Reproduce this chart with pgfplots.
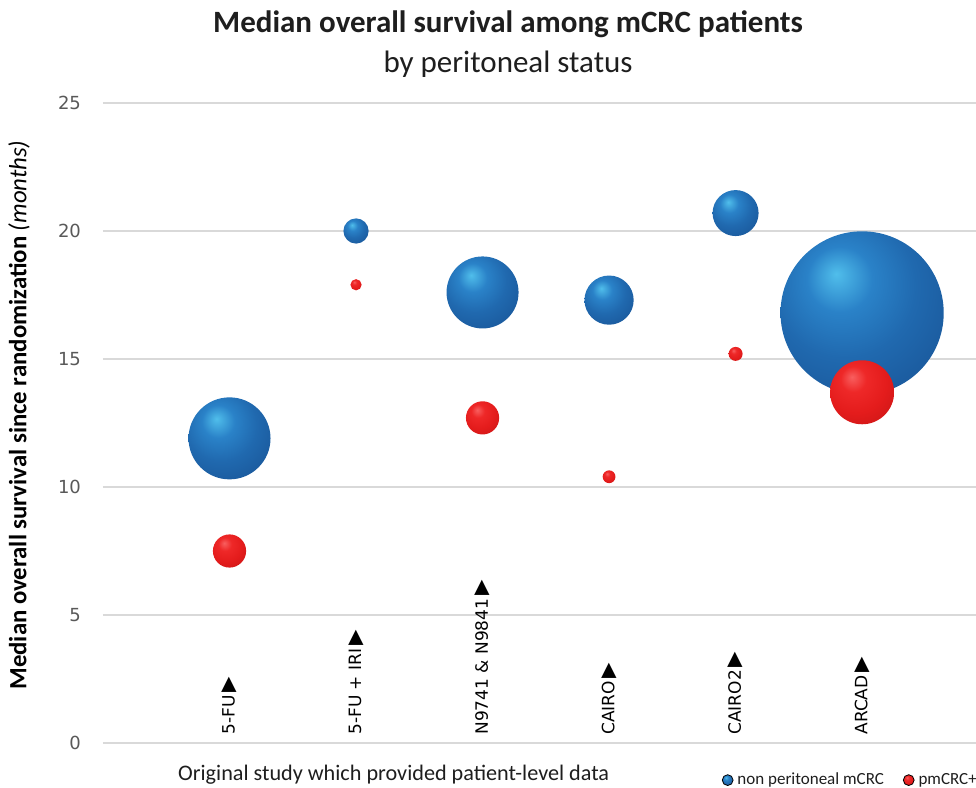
\documentclass[border=0pt]{standalone}
\usepackage{pgfplots}
\pgfplotsset{compat=1.18}
\usepackage{fontspec}
\setmainfont{Carlito}
\newfontfamily\dejavu{DejaVu Sans}
\definecolor{gridgray}{RGB}{217,217,217}
\definecolor{tickgray}{RGB}{89,89,89}
\definecolor{txt}{RGB}{30,30,30}
\definecolor{bhl}{RGB}{80,190,235}
\definecolor{bb1}{RGB}{42,130,200}
\definecolor{bb2}{RGB}{32,105,175}
\definecolor{bb3}{RGB}{26,88,155}
\definecolor{bb4}{RGB}{15,55,105}
\definecolor{bb5}{RGB}{5,22,45}
\definecolor{rhl}{RGB}{248,95,95}
\definecolor{rr1}{RGB}{238,40,40}
\definecolor{rr2}{RGB}{228,28,28}
\definecolor{rr3}{RGB}{205,22,22}
\definecolor{rr4}{RGB}{145,15,15}
\definecolor{rr5}{RGB}{80,8,8}
\pgfdeclareradialshading{bblue}{\pgfqpoint{-8bp}{12bp}}{color(0bp)=(bhl); color(10bp)=(bb1); color(22bp)=(bb2); color(36bp)=(bb3); color(48bp)=(bb4); color(62bp)=(bb5); color(70bp)=(bb5)}
\pgfdeclareradialshading{bred}{\pgfqpoint{-8bp}{12bp}}{color(0bp)=(rhl); color(10bp)=(rr1); color(24bp)=(rr2); color(38bp)=(rr3); color(50bp)=(rr4); color(62bp)=(rr5); color(70bp)=(rr5)}
\pgfdeclareplotmark{blueball}{\pgfpathcircle{\pgfpointorigin}{\pgfplotmarksize}\pgfshadepath{bblue}{0}\pgfusepath{}}
\pgfdeclareplotmark{redball}{\pgfpathcircle{\pgfpointorigin}{\pgfplotmarksize}\pgfshadepath{bred}{0}\pgfusepath{}}

\pgfplotstableread{
x y r
1 11.9 20.5
2 20.0 6.3
3 17.6 18.0
4 17.3 12.3
5 20.7 11.5
6 16.8 40.8
}\nonperitoneal
\pgfplotstableread{
x y r
1 7.5 8.3
2 17.9 2.8
3 12.7 8.3
4 10.4 3.2
5 15.2 3.5
6 13.7 16.0
}\pmcrc

\newcommand{\tri}{{\fontsize{10}{10}\selectfont ▶}}

\begin{document}
\begin{tikzpicture}
\begin{axis}[
  scale only axis, width=436.5pt, height=320pt,
  xmin=0, xmax=6.9, ymin=0, ymax=25,
  axis line style={draw=none},
  major tick length=0pt,
  ytick={0,5,...,25},
  ymajorgrids, grid style={gridgray, line width=0.8pt},
  xtick={1,2,3,4,5,6},
  xticklabels={5-FU\,\tri, 5-FU + IRI\,\tri, N9741 \& N9841\,\tri, CAIRO\,\tri, CAIRO2\,\tri, ARCAD\,\tri},
  xticklabel style={rotate=90, anchor=west, font=\dejavu\fontsize{8.5}{10}\selectfont, text=black, inner xsep=4pt},
  yticklabel style={font=\dejavu\fontsize{9}{11}\selectfont, text=tickgray, xshift=-7.5pt},
  /pgf/number format/assume math mode=true,
  clip=false,
  title={\textbf{Median overall survival among mCRC patients}\\by peritoneal status},
  title style={align=center, at={(0.464,1.074)}, anchor=center, font=\fontsize{15.5}{20}\selectfont, text=txt},
  ylabel={\textbf{Median overall survival since randomization} \textit{(months)}},
  ylabel style={at={(-0.0962,0.5125)}, anchor=center, rotate=0, font=\fontsize{12.4}{14}\selectfont, text=black},
  xlabel={Original study which provided patient-level data},
  xlabel style={at={(0.333,-0.05)}, anchor=center, font=\fontsize{11.1}{13}\selectfont, text=txt},
  legend style={at={(0.7016,-0.058)}, anchor=west, draw=none, fill=none, legend columns=2,
    font=\fontsize{8.5}{10}\selectfont, text=txt,
    /tikz/every even column/.append style={column sep=7.5pt}},
  legend cell align=left,
]
\addplot[scatter, only marks, mark=blueball,
  visualization depends on={\thisrow{r} \as \rad},
  scatter/@pre marker code/.append style={/tikz/mark size=\rad pt},
  legend image code/.code={\shade[shading=bblue] (1.5pt,0pt) circle (2.7pt);}]
  table[x=x, y=y] {\nonperitoneal};
\addlegendentry{non peritoneal mCRC}
\addplot[scatter, only marks, mark=redball,
  visualization depends on={\thisrow{r} \as \rad},
  scatter/@pre marker code/.append style={/tikz/mark size=\rad pt},
  legend image code/.code={\shade[shading=bred] (1.5pt,0pt) circle (2.7pt);}]
  table[x=x, y=y] {\pmcrc};
\addlegendentry{pmCRC+}
\end{axis}
\pgfresetboundingbox
\path[use as bounding box] (-51.5pt,-22.5pt) rectangle (436.5pt,371.5pt);
\end{tikzpicture}
\end{document}
